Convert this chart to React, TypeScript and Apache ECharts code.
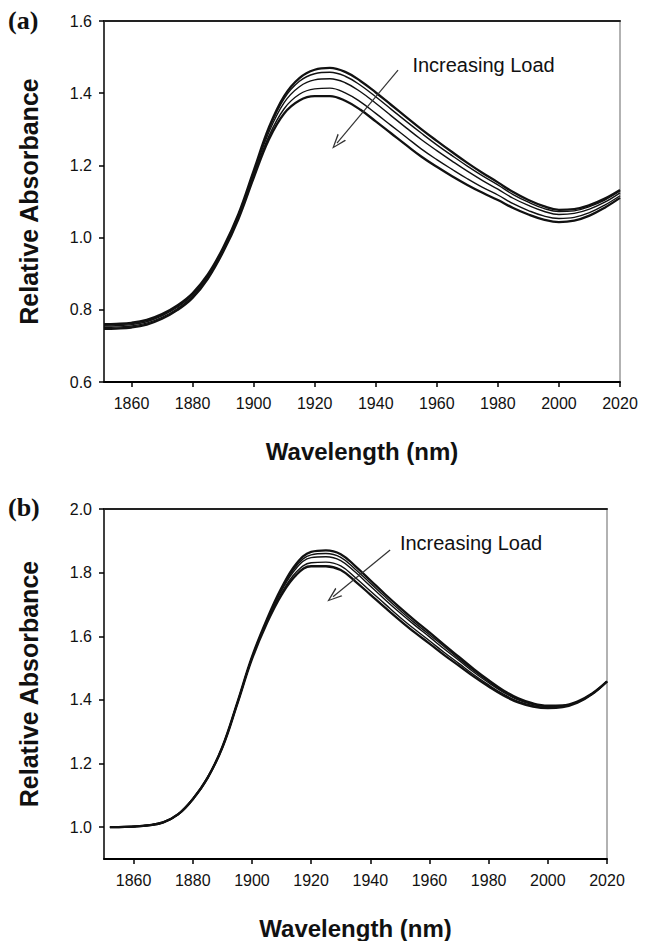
import React, { useEffect, useRef } from "react";
import * as echarts from "echarts";

// ---- Panel (a) ----
const WL_A = [1851, 1855, 1860, 1865, 1870, 1875, 1880, 1885, 1890, 1895, 1900, 1905, 1910, 1915, 1920, 1925, 1930, 1935, 1940, 1945, 1950, 1955, 1960, 1965, 1970, 1975, 1980, 1985, 1990, 1995, 2000, 2005, 2010, 2015, 2020];
const A1 = [0.760, 0.761, 0.764, 0.772, 0.788, 0.812, 0.846, 0.898, 0.972, 1.065, 1.185, 1.305, 1.392, 1.442, 1.465, 1.470, 1.459, 1.434, 1.402, 1.368, 1.334, 1.300, 1.268, 1.237, 1.207, 1.179, 1.153, 1.126, 1.104, 1.087, 1.077, 1.079, 1.090, 1.108, 1.132];
const A2 = [0.758, 0.759, 0.762, 0.770, 0.786, 0.810, 0.844, 0.896, 0.970, 1.063, 1.182, 1.300, 1.385, 1.433, 1.454, 1.458, 1.447, 1.422, 1.390, 1.356, 1.322, 1.289, 1.257, 1.227, 1.198, 1.171, 1.146, 1.119, 1.098, 1.081, 1.072, 1.074, 1.086, 1.104, 1.129];
const A3 = [0.755, 0.756, 0.759, 0.767, 0.783, 0.807, 0.841, 0.893, 0.967, 1.060, 1.177, 1.292, 1.374, 1.418, 1.437, 1.440, 1.429, 1.404, 1.372, 1.338, 1.304, 1.271, 1.241, 1.212, 1.184, 1.158, 1.134, 1.109, 1.089, 1.073, 1.064, 1.067, 1.079, 1.098, 1.124];
const A4 = [0.751, 0.752, 0.755, 0.763, 0.779, 0.803, 0.837, 0.889, 0.963, 1.055, 1.171, 1.281, 1.357, 1.397, 1.412, 1.414, 1.401, 1.376, 1.344, 1.311, 1.278, 1.245, 1.216, 1.189, 1.163, 1.139, 1.118, 1.094, 1.075, 1.060, 1.053, 1.056, 1.069, 1.090, 1.116];
const A5 = [0.747, 0.748, 0.751, 0.759, 0.775, 0.799, 0.833, 0.886, 0.960, 1.051, 1.165, 1.272, 1.344, 1.380, 1.392, 1.392, 1.379, 1.354, 1.322, 1.289, 1.256, 1.224, 1.196, 1.170, 1.146, 1.124, 1.104, 1.082, 1.064, 1.050, 1.043, 1.047, 1.061, 1.083, 1.110];

// ---- Panel (b) ----
const WL_B = [1852, 1855, 1860, 1865, 1870, 1875, 1880, 1885, 1890, 1895, 1900, 1905, 1910, 1915, 1920, 1925, 1930, 1935, 1940, 1945, 1950, 1955, 1960, 1965, 1970, 1975, 1980, 1985, 1990, 1995, 2000, 2005, 2010, 2015, 2020];
const B1 = [1.000, 1.000, 1.002, 1.006, 1.015, 1.040, 1.088, 1.155, 1.252, 1.390, 1.535, 1.652, 1.752, 1.828, 1.865, 1.870, 1.858, 1.820, 1.776, 1.732, 1.690, 1.650, 1.612, 1.573, 1.535, 1.497, 1.462, 1.430, 1.405, 1.389, 1.382, 1.383, 1.395, 1.420, 1.458];
const B2 = [1.000, 1.000, 1.002, 1.006, 1.015, 1.040, 1.088, 1.155, 1.252, 1.389, 1.534, 1.650, 1.748, 1.821, 1.856, 1.860, 1.848, 1.810, 1.767, 1.724, 1.682, 1.642, 1.605, 1.567, 1.529, 1.492, 1.458, 1.427, 1.402, 1.387, 1.380, 1.382, 1.394, 1.420, 1.458];
const B3 = [1.000, 1.000, 1.002, 1.006, 1.015, 1.040, 1.088, 1.155, 1.251, 1.388, 1.532, 1.647, 1.743, 1.814, 1.847, 1.850, 1.838, 1.801, 1.758, 1.715, 1.674, 1.635, 1.598, 1.560, 1.524, 1.487, 1.454, 1.424, 1.400, 1.385, 1.379, 1.381, 1.393, 1.419, 1.458];
const B4 = [1.000, 1.000, 1.002, 1.006, 1.015, 1.040, 1.088, 1.155, 1.251, 1.387, 1.530, 1.643, 1.736, 1.802, 1.831, 1.833, 1.821, 1.784, 1.742, 1.701, 1.660, 1.622, 1.586, 1.549, 1.514, 1.479, 1.447, 1.418, 1.395, 1.382, 1.376, 1.379, 1.392, 1.419, 1.458];
const B5 = [1.000, 1.000, 1.002, 1.006, 1.015, 1.040, 1.088, 1.155, 1.250, 1.386, 1.528, 1.640, 1.730, 1.793, 1.820, 1.820, 1.808, 1.772, 1.731, 1.690, 1.650, 1.612, 1.577, 1.541, 1.507, 1.473, 1.442, 1.414, 1.392, 1.379, 1.374, 1.377, 1.391, 1.418, 1.458];

// ---- Ticks ----
const X_TICKS = [1860, 1880, 1900, 1920, 1940, 1960, 1980, 2000, 2020];
const Y_TICKS_A = [0.6, 0.8, 1.0, 1.2, 1.4, 1.6];
const Y_TICKS_B = [1.0, 1.2, 1.4, 1.6, 1.8, 2.0];

// ---- Annotation anchors (data coordinates) ----
const ARROW_A = [[1947.3, 1.464], [1927.3, 1.262]];
const TEXT_A = [1952.0, 1.478];
const ARROW_B = [[1946.7, 1.871], [1927.4, 1.724]];
const TEXT_B = [1950.0, 1.893];
const ANNOT = "Increasing Load";

const FONT = "'Liberation Sans', Arial, Helvetica, sans-serif";
const LINE_WIDTHS = [2.3, 1.4, 1.4, 1.4, 2.3];

const zip = (xs: number[], ys: number[]) => xs.map((x, i) => [x, ys[i]]);

const CHEVRON = "path://M5,0 L10,14 L8.6,14 L5,3.2 L1.4,14 L0,14 Z";

function buildOption() {
  const xMain = (gridIndex: number, min: number) => ({
    gridIndex,
    type: "value",
    min,
    max: 2020,
    position: "bottom",
    splitLine: { show: false },
    axisLine: { show: true, onZero: false, lineStyle: { color: "#000", width: 2 } },
    axisTick: { show: true, customValues: X_TICKS, length: 5, inside: false, lineStyle: { color: "#000", width: 1.5 } },
    axisLabel: { show: true, customValues: X_TICKS, margin: 13, fontSize: 16, color: "#111", fontFamily: FONT, formatter: (v: number) => String(Math.round(v)) },
    name: "Wavelength (nm)",
    nameLocation: "middle",
    nameGap: 57,
    nameTextStyle: { fontSize: 24, fontWeight: "bold", color: "#111", fontFamily: FONT },
  });
  const xTop = (gridIndex: number, min: number) => ({
    gridIndex,
    type: "value",
    min,
    max: 2020,
    position: "top",
    splitLine: { show: false },
    axisLine: { show: true, onZero: false, lineStyle: { color: "#222", width: 2 } },
    axisTick: { show: false },
    axisLabel: { show: false },
  });
  const yMain = (gridIndex: number, min: number, max: number, ticks: number[]) => ({
    gridIndex,
    type: "value",
    min,
    max,
    position: "left",
    splitLine: { show: false },
    axisLine: { show: true, onZero: false, lineStyle: { color: "#000", width: 1.5 } },
    axisTick: { show: true, customValues: ticks, length: 5, inside: false, lineStyle: { color: "#000", width: 1.5 } },
    axisLabel: { show: true, customValues: ticks, margin: 12, fontSize: 16, color: "#111", fontFamily: FONT, formatter: (v: number) => v.toFixed(1) },
    name: "Relative Absorbance",
    nameLocation: "middle",
    nameGap: 63,
    nameRotate: 90,
    nameTextStyle: { fontSize: 25, fontWeight: "bold", color: "#111", fontFamily: FONT },
  });
  const yRight = (gridIndex: number, min: number, max: number) => ({
    gridIndex,
    type: "value",
    min,
    max,
    position: "right",
    splitLine: { show: false },
    axisLine: { show: true, onZero: false, lineStyle: { color: "#999", width: 1.5 } },
    axisTick: { show: false },
    axisLabel: { show: false },
  });

  const makeSeries = (xs: number[], curves: number[][], xAxisIndex: number, yAxisIndex: number, arrow: number[][], textAt: number[]) =>
    curves.map((ys, i) => {
      const s: any = {
        type: "line",
        xAxisIndex,
        yAxisIndex,
        data: zip(xs, ys),
        showSymbol: false,
        smooth: 0.4,
        silent: true,
        lineStyle: { color: "#111", width: LINE_WIDTHS[i] },
        z: 3,
      };
      if (i === 0) {
        s.markLine = {
          silent: true,
          symbol: ["none", CHEVRON],
          symbolSize: [11, 15],
          lineStyle: { color: "#333", width: 1.2, type: "solid" },
          label: { show: false },
          data: [[{ coord: arrow[0] }, { coord: arrow[1] }]],
        };
        s.markPoint = {
          silent: true,
          symbol: "circle",
          symbolSize: 0,
          itemStyle: { color: "transparent" },
          label: {
            show: true,
            position: [0, 0],
            align: "left",
            verticalAlign: "middle",
            formatter: ANNOT,
            fontSize: 20,
            color: "#111",
            fontFamily: FONT,
          },
          data: [{ coord: textAt }],
        };
      }
      return s;
    });

  return {
    animation: false,
    backgroundColor: "#fff",
    grid: [
      { left: 104, top: 21, width: 516, height: 361 },
      { left: 104, top: 509, width: 503, height: 350 },
    ],
    xAxis: [xMain(0, 1851), xTop(0, 1851), xMain(1, 1850), xTop(1, 1850)],
    yAxis: [yMain(0, 0.6, 1.6, Y_TICKS_A), yRight(0, 0.6, 1.6), yMain(1, 0.9, 2.0, Y_TICKS_B), yRight(1, 0.9, 2.0)],
    series: [
      ...makeSeries(WL_A, [A1, A2, A3, A4, A5], 0, 0, ARROW_A, TEXT_A),
      ...makeSeries(WL_B, [B1, B2, B3, B4, B5], 2, 2, ARROW_B, TEXT_B),
    ],
    graphic: [
      { type: "text", left: 8, top: 7, style: { text: "(a)", font: "bold 26px 'Liberation Serif', 'Times New Roman', serif", fill: "#111" } },
      { type: "text", left: 8, top: 494, style: { text: "(b)", font: "bold 26px 'Liberation Serif', 'Times New Roman', serif", fill: "#111" } },
    ],
  };
}

export default function App() {
  const ref = useRef<HTMLDivElement>(null);
  useEffect(() => {
    if (!ref.current) return;
    const chart = echarts.init(ref.current, null, { renderer: "svg" });
    chart.setOption(buildOption() as any);
    return () => chart.dispose();
  }, []);
  return (
    <div
      ref={ref}
      style={{ position: "absolute", left: 0, top: 0, width: 650, height: 941, background: "#fff" }}
    />
  );
}
